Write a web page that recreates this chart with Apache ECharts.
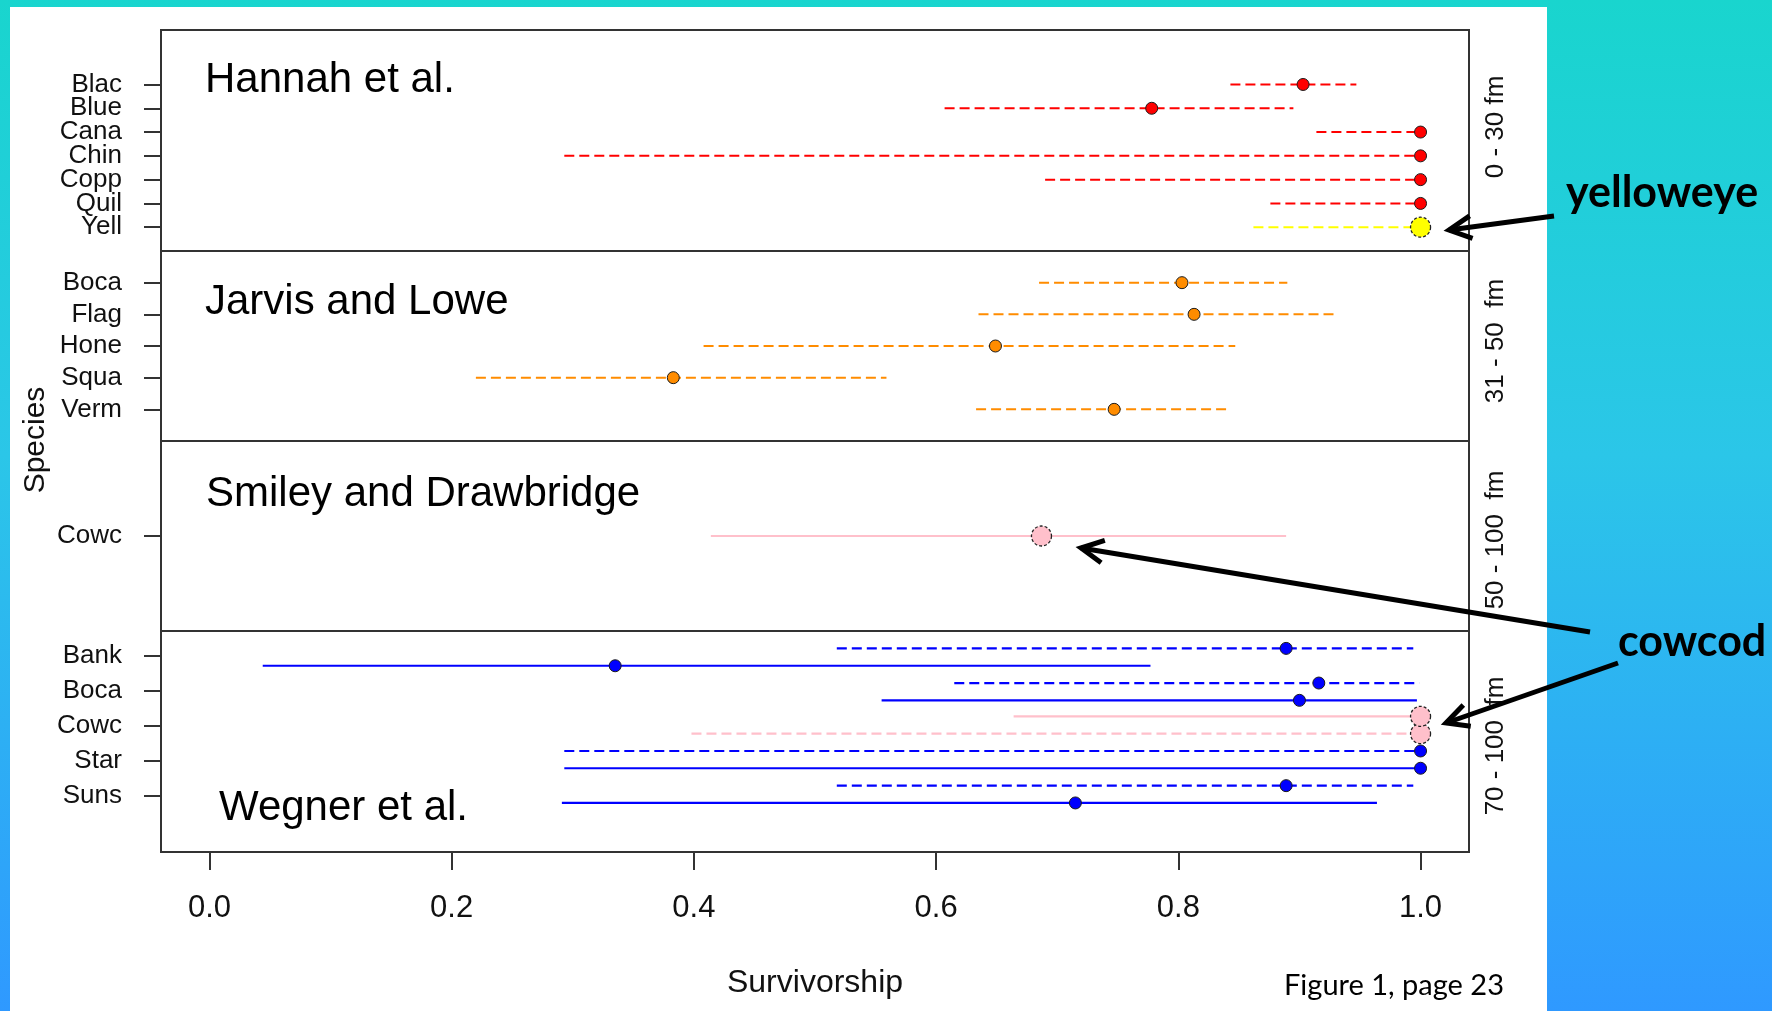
<!DOCTYPE html>
<html>
<head>
<meta charset="utf-8">
<title>Survivorship by species</title>
<script src="https://cdn.jsdelivr.net/npm/echarts@6/dist/echarts.min.js"></script>
<style>
  html, body { margin: 0; padding: 0; }
  body {
    width: 1772px; height: 1011px; overflow: hidden; position: relative;
    background: linear-gradient(to bottom, #19d5ce 0%, #2bc6e8 45%, #2f99ff 100%);
  }
  #sheet { position: absolute; left: 10px; top: 7px; width: 1537px; height: 1004px; background: #fff; }
  #chart { position: absolute; left: 0; top: 0; width: 1772px; height: 1011px; }
</style>
</head>
<body>
<div id="sheet"></div>
<div id="chart"></div>
<script>
// ---- Data (survivorship estimate with lower / upper bound) ----

const xTicks = [0, 0.2, 0.4, 0.6, 0.8, 1.0]

// Hannah et al., 0 - 30 fm
const hannahSpecies = ['Blac', 'Blue', 'Cana', 'Chin', 'Copp', 'Quil', 'Yell']
const hannahEst = [0.903, 0.778, 1, 1, 1, 1, 1]
const hannahLo = [0.843, 0.607, 0.914, 0.293, 0.690, 0.876, 0.862]
const hannahHi = [0.947, 0.895, 1, 1, 1, 1, 1]

// Jarvis and Lowe, 31 - 50 fm
const jarvisSpecies = ['Boca', 'Flag', 'Hone', 'Squa', 'Verm']
const jarvisEst = [0.803, 0.813, 0.649, 0.383, 0.747]
const jarvisLo = [0.685, 0.635, 0.408, 0.220, 0.633]
const jarvisHi = [0.890, 0.929, 0.847, 0.559, 0.841]

// Smiley and Drawbridge, 50 - 100 fm
const smileySpecies = ['Cowc']
const smileyEst = [0.687]
const smileyLo = [0.414]
const smileyHi = [0.889]

// Wegner et al., 70 - 100 fm (two estimates per species)
const wegnerSpecies = ['Bank', 'Boca', 'Cowc', 'Star', 'Suns']
const wegnerDashEst = [0.889, 0.916, 1, 1, 0.889]
const wegnerDashLo = [0.518, 0.615, 0.398, 0.293, 0.518]
const wegnerDashHi = [0.994, 0.999, 1, 1, 0.994]
const wegnerDashRow = [0.787, 1.778, 3.227, 3.721, 4.713]
const wegnerSolidEst = [0.335, 0.900, 1, 1, 0.715]
const wegnerSolidLo = [0.044, 0.555, 0.664, 0.293, 0.291]
const wegnerSolidHi = [0.777, 0.997, 1, 1, 0.964]
const wegnerSolidRow = [1.284, 2.273, 2.730, 4.215, 5.207]

// ---- Styles ----

const RED = '#ff0000'
const YELLOW = '#ffff00'
const ORANGE = '#ff8c00'
const PINK = '#ffc0cb'
const BLUE = '#0000ff'
const FRAME = '#333333'
const R_FONT = '"Liberation Sans", Arial, sans-serif'
const SLIDE_FONT = 'Lato, "Open Sans", sans-serif'
const DASH = [10, 5]

const rowsOf = (names) => names.map((_, i) => i + 1)

function hannahColor(name) { return name === 'Yell' ? YELLOW : RED }
function jarvisColor() { return ORANGE }
function smileyColor() { return PINK }
function wegnerColor(name) { return name === 'Cowc' ? PINK : BLUE }

const panels = [
  { top: 30, height: 221, names: hannahSpecies, min: -1.29, max: 8.0 },
  { top: 251, height: 190, names: jarvisSpecies, min: 0, max: 6 },
  { top: 441, height: 190, names: smileySpecies, min: 0, max: 2 },
  { top: 631, height: 221, names: wegnerSpecies, min: 0.29, max: 6.61 },
]

// ---- Builders ----

function intervalSeries(idx, lo, hi, rows, colors, dashed, width) {
  return {
    type: 'custom',
    xAxisIndex: idx,
    yAxisIndex: idx,
    silent: true,
    z: 2,
    data: lo.map((v, i) => [v, hi[i], rows[i]]),
    renderItem(params, api) {
      const a = api.coord([api.value(0), api.value(2)])
      const b = api.coord([api.value(1), api.value(2)])
      return {
        type: 'line',
        shape: { x1: a[0], y1: a[1], x2: b[0], y2: b[1] },
        style: {
          stroke: colors[params.dataIndex],
          lineWidth: width,
          lineDash: dashed ? DASH : null,
        },
      }
    },
  }
}

function dotSeries(idx, est, rows, names, colors) {
  return {
    type: 'scatter',
    xAxisIndex: idx,
    yAxisIndex: idx,
    silent: true,
    z: 3,
    data: est.map((v, i) => {
      const big = names[i] === 'Yell' || names[i] === 'Cowc'
      return {
        value: [v, rows[i]],
        symbolSize: big ? 20 : 12,
        itemStyle: {
          color: colors[i],
          borderColor: big ? '#222' : '#1a1a1a',
          borderWidth: big ? 1.3 : 1,
          borderType: big ? [3, 2] : 'solid',
          opacity: 1,
        },
      }
    }),
  }
}

function arrow(x1, y1, x2, y2) {
  // tail (x1,y1) -> tip (x2,y2), open chevron head
  const ang = Math.atan2(y1 - y2, x1 - x2)
  const len = 25
  const spread = 0.47
  const a1 = [x2 + len * Math.cos(ang - spread), y2 + len * Math.sin(ang - spread)]
  const a2 = [x2 + len * Math.cos(ang + spread), y2 + len * Math.sin(ang + spread)]
  const style = { stroke: '#000', lineWidth: 5, lineJoin: 'miter', fill: null }
  return [
    { type: 'line', shape: { x1, y1, x2, y2 }, style },
    { type: 'polyline', shape: { points: [a1, [x2, y2], a2] }, style },
  ]
}

function label(text, x, y, size, opts = {}) {
  return {
    type: 'text',
    x,
    y,
    rotation: opts.rotation || 0,
    style: {
      text,
      fontFamily: opts.font || R_FONT,
      fontSize: size,
      fontWeight: opts.weight || 'normal',
      fill: opts.color || '#000',
      align: opts.align || 'left',
      verticalAlign: 'middle',
    },
  }
}

const grid = panels.map((p) => ({
  left: 161,
  right: 303,
  top: p.top,
  height: p.height,
  show: true,
  borderColor: FRAME,
  borderWidth: 2,
  backgroundColor: 'transparent',
}))

const xAxis = panels.map((p, i) => {
  const bottom = i === panels.length - 1
  return {
    type: 'value',
    gridIndex: i,
    min: -0.04,
    max: 1.04,
    axisLine: { show: false, onZero: false },
    splitLine: { show: false },
    axisTick: {
      show: bottom,
      length: 18,
      customValues: xTicks,
      lineStyle: { color: FRAME, width: 2 },
    },
    axisLabel: {
      show: bottom,
      customValues: xTicks,
      margin: 41,
      formatter: (v) => v.toFixed(1),
      fontFamily: R_FONT,
      fontSize: 31,
      color: '#111',
    },
    name: bottom ? 'Survivorship' : '',
    nameLocation: 'middle',
    nameGap: 131,
    nameTextStyle: { fontFamily: R_FONT, fontSize: 32, color: '#111', verticalAlign: 'middle' },
  }
})

// species axis; tickRows / labelRows let the crowded top panel split its labels
// over two stacked axes so none of them gets dropped
function speciesAxis(p, i, tickRows, labelRows) {
  return {
    type: 'value',
    gridIndex: i,
    position: 'left',
    min: p.min,
    max: p.max,
    inverse: true,
    axisLine: { show: false, onZero: false },
    splitLine: { show: false },
    axisTick: {
      show: tickRows.length > 0,
      length: 17,
      customValues: tickRows,
      lineStyle: { color: FRAME, width: 2 },
    },
    axisLabel: {
      customValues: labelRows,
      showMinLabel: true,
      showMaxLabel: true,
      hideOverlap: false,
      margin: 39,
      formatter: (v) => p.names[Math.round(v) - 1] || '',
      fontFamily: R_FONT,
      fontSize: 26,
      color: '#111',
    },
  }
}

const yAxis = panels.map((p, i) => {
  const rows = rowsOf(p.names)
  const labelRows = i === 0 ? rows.filter((r) => r !== 2 && r !== rows.length - 1) : rows
  return speciesAxis(p, i, rows, labelRows)
})
// extra label-only axis for the two rows next to the ends of the top panel
yAxis.push(speciesAxis(panels[0], 0, [], [2, hannahSpecies.length - 1]))

const hannahColors = hannahSpecies.map(hannahColor)
const jarvisColors = jarvisSpecies.map(jarvisColor)
const smileyColors = smileySpecies.map(smileyColor)
const wegnerColors = wegnerSpecies.map(wegnerColor)

const series = [
  intervalSeries(0, hannahLo, hannahHi, rowsOf(hannahSpecies), hannahColors, true, 2),
  dotSeries(0, hannahEst, rowsOf(hannahSpecies), hannahSpecies, hannahColors),
  intervalSeries(1, jarvisLo, jarvisHi, rowsOf(jarvisSpecies), jarvisColors, true, 2),
  dotSeries(1, jarvisEst, rowsOf(jarvisSpecies), jarvisSpecies, jarvisColors),
  intervalSeries(2, smileyLo, smileyHi, rowsOf(smileySpecies), smileyColors, false, 2),
  dotSeries(2, smileyEst, rowsOf(smileySpecies), smileySpecies, smileyColors),
  intervalSeries(3, wegnerDashLo, wegnerDashHi, wegnerDashRow, wegnerColors, true, 2.2),
  intervalSeries(3, wegnerSolidLo, wegnerSolidHi, wegnerSolidRow, wegnerColors, false, 2.2),
  dotSeries(3, wegnerDashEst, wegnerDashRow, wegnerSpecies, wegnerColors),
  dotSeries(3, wegnerSolidEst, wegnerSolidRow, wegnerSpecies, wegnerColors),
]

const graphic = [
  // panel titles
  label('Hannah et al.', 205, 80, 42),
  label('Jarvis and Lowe', 205, 302, 42),
  label('Smiley and Drawbridge', 206, 494, 42),
  label('Wegner et al.', 219, 808, 42),
  // axis title and depth labels
  label('Species', 36, 440, 30, { rotation: Math.PI / 2, align: 'center', color: '#111' }),
  label('0 - 30 fm', 1496, 127, 26, { rotation: Math.PI / 2, align: 'center', color: '#111' }),
  label('31 - 50  fm', 1496, 341, 26, { rotation: Math.PI / 2, align: 'center', color: '#111' }),
  label('50 - 100  fm', 1496, 540, 26, { rotation: Math.PI / 2, align: 'center', color: '#111' }),
  label('70 - 100  fm', 1496, 746, 26, { rotation: Math.PI / 2, align: 'center', color: '#111' }),
  // slide annotations
  label('yelloweye', 1566, 193, 43, { font: SLIDE_FONT, weight: 'bold' }),
  label('cowcod', 1618, 642, 43, { font: SLIDE_FONT, weight: 'bold' }),
  label('Figure 1, page 23', 1284, 986, 29, { font: SLIDE_FONT }),
  ...arrow(1554, 216, 1449, 230),
  ...arrow(1590, 632, 1081, 548),
  ...arrow(1618, 663, 1446, 723),
]

const chart = echarts.init(document.getElementById('chart'), null, { renderer: 'canvas' })
chart.setOption({
  backgroundColor: 'transparent',
  animation: false,
  grid,
  xAxis,
  yAxis,
  series,
  graphic,
})
</script>
</body>
</html>
